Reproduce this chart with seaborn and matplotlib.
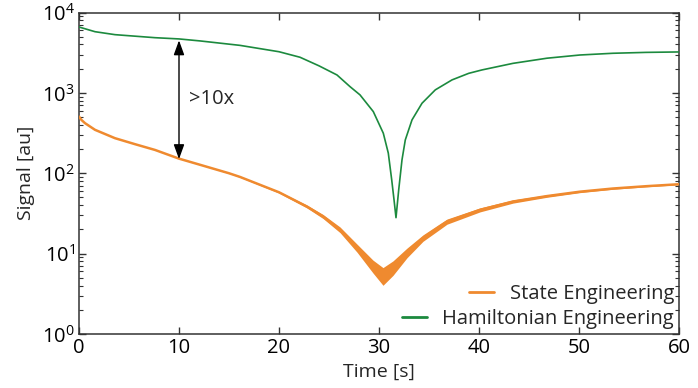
import matplotlib
matplotlib.use("Agg")
import matplotlib.pyplot as plt
from matplotlib.lines import Line2D
import numpy as np
import pandas as pd
import seaborn as sns

# Hamiltonian Engineering signal
ham_t = [0, 1.6, 3.6, 7.6, 10, 12.1, 16.1, 20, 22.1, 24.0, 25.8, 27.1, 28.1,
         29.43, 30.43, 30.93, 31.27, 31.5, 31.7, 31.97, 32.3, 32.63, 33.3,
         34.3, 35.63, 37.3, 38.97, 40.3, 43.4, 46.8, 50.1, 53.4, 56.7, 60]
ham_v = [6600, 5770, 5300, 4860, 4690, 4430, 3900, 3250, 2775, 2170, 1670,
         1196, 944, 585, 315, 178, 83, 47, 28, 62, 147, 260, 461, 743, 1090,
         1450, 1750, 1930, 2330, 2700, 2960, 3110, 3190, 3230]

# State Engineering signal, with the half-width of its shot noise (decades)
state_t = [0, 0.25, 0.6, 1.6, 3.6, 5.6, 7.6, 10, 15, 16.1, 20, 22.8, 24.4,
           26.1, 27.8, 29.4, 30.4, 31.4, 32.8, 34.4, 36.1, 36.8, 40.1, 43.4,
           46.8, 50.1, 53.4, 56.7, 60]
state_v = [507, 460, 420, 347, 273, 230, 195, 152, 100, 90, 58, 38.5, 29,
           19.8, 11.7, 6.9, 5.2, 6.6, 10.2, 15.6, 21.8, 25, 35, 44.5, 52, 59,
           64.6, 69, 73]
state_noise = [0, 0, 0, 0, 0, 0, 0, 0, 0.003, 0.005, 0.01, 0.018, 0.025,
               0.035, 0.05, 0.08, 0.11, 0.09, 0.06, 0.04, 0.035, 0.032, 0.025,
               0.02, 0.015, 0.012, 0.01, 0.008, 0.006]

ORANGE = "#EF8A2F"
GREEN = "#1C8A3E"

sns.set_style("ticks")
plt.rcParams["font.family"] = ["Open Sans", "DejaVu Sans"]
plt.rcParams["mathtext.default"] = "regular"

df = pd.concat([
    pd.DataFrame({"Time [s]": state_t, "Signal [au]": state_v,
                  "Scheme": "State Engineering"}),
    pd.DataFrame({"Time [s]": ham_t, "Signal [au]": ham_v,
                  "Scheme": "Hamiltonian Engineering"}),
], ignore_index=True)

fig = plt.figure(figsize=(6.98, 3.88), dpi=100)
ax = fig.add_axes([79 / 698, 1 - 334 / 388, 600 / 698, 321.5 / 388])

sv = np.array(state_v)
sn = np.array(state_noise)
ax.fill_between(state_t, sv * 10 ** (-sn), sv * 10 ** sn,
                color=ORANGE, lw=0, zorder=2)

sns.lineplot(data=df, x="Time [s]", y="Signal [au]", hue="Scheme",
             palette={"State Engineering": ORANGE,
                      "Hamiltonian Engineering": GREEN},
             ax=ax, sort=False, estimator=None, legend=False, zorder=3)
for line, lw in zip(ax.get_lines(), [1.8, 1.2]):
    line.set_linewidth(lw)
    line.set_solid_joinstyle("round")

ax.set_yscale("log")
ax.set_xlim(0, 60)
ax.set_ylim(1, 1e4)

ax.annotate("", xy=(10, 4500), xytext=(10, 150),
            arrowprops=dict(arrowstyle="<|-|>,head_length=0.55,head_width=0.2",
                            color="black", lw=1.0, shrinkA=0, shrinkB=0,
                            mutation_scale=16))
ax.text(11.0, 840, ">10x", fontsize=14.5, va="center", ha="left")

for side in ["top", "right", "bottom", "left"]:
    ax.spines[side].set_visible(True)
    ax.spines[side].set_color("#333333")
    ax.spines[side].set_linewidth(1.1)

ax.set_xticks([0, 10, 20, 30, 40, 50, 60])
ax.tick_params(which="both", direction="in", top=True, right=True,
               colors="#333333", labelcolor="black", labelsize=14.5)
ax.tick_params(which="major", length=5, width=1)
ax.tick_params(which="minor", length=3, width=0.8)
ax.tick_params(axis="x", which="minor", bottom=False, top=False)
ax.tick_params(axis="x", pad=3)
ax.tick_params(axis="y", pad=3)

ax.set_xlabel("Time [s]", fontsize=14, labelpad=3)
ax.set_ylabel("Signal [au]", fontsize=14, labelpad=5)

handles = [Line2D([], [], color=ORANGE, lw=2),
           Line2D([], [], color=GREEN, lw=2)]
leg = ax.legend(handles, ["State Engineering", "Hamiltonian Engineering"],
                loc="lower right", frameon=False, fontsize=14.5,
                handlelength=1.25, handletextpad=0.75, labelspacing=0.25,
                borderaxespad=0.1, borderpad=0.15)
for col in leg._legend_handle_box.get_children():
    col.align = "right"

fig.savefig("out.png", dpi=100)
